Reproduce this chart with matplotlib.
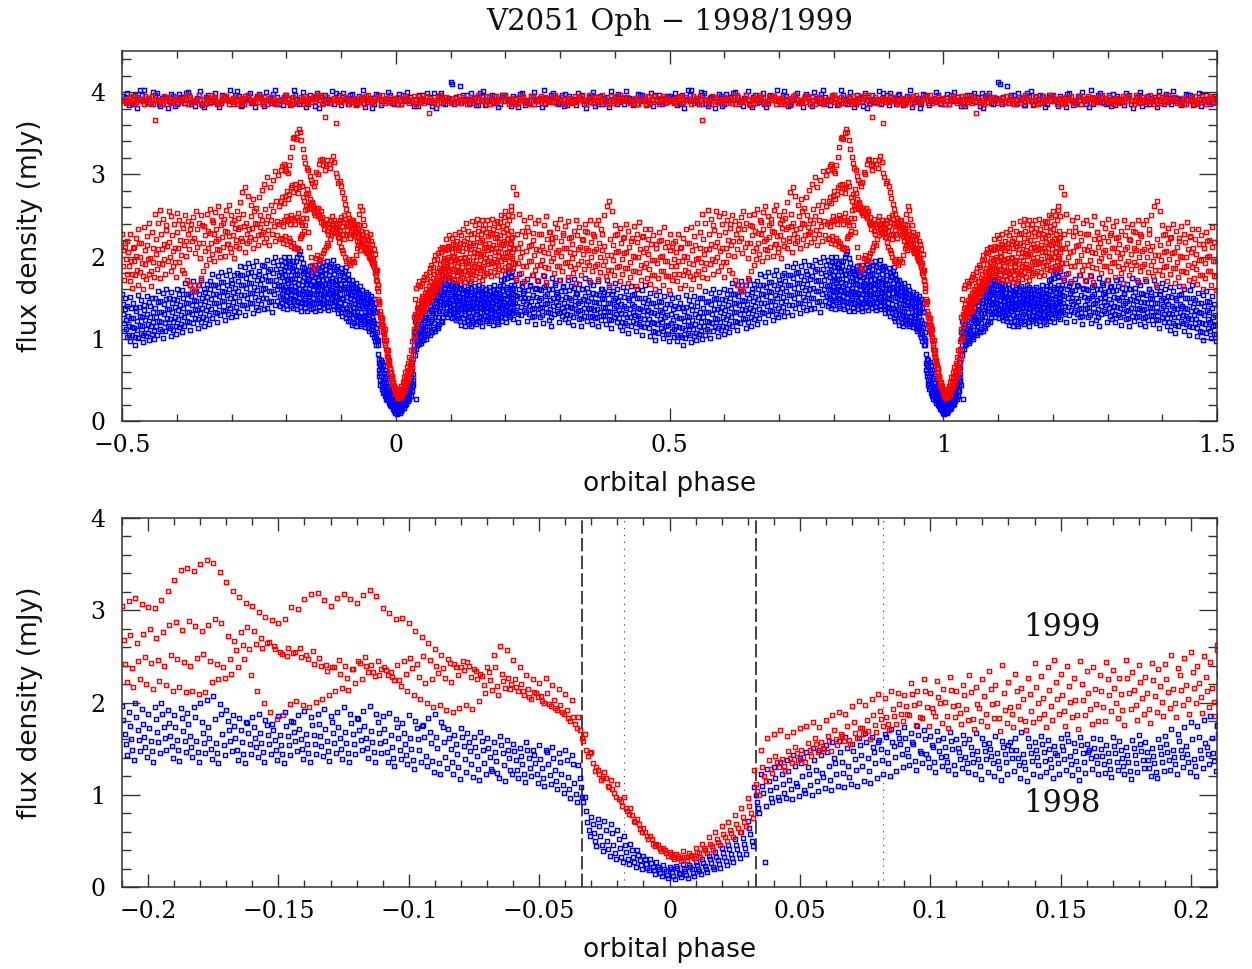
import numpy as np
import matplotlib
matplotlib.use("Agg")
import matplotlib.pyplot as plt
from matplotlib.ticker import MultipleLocator, FuncFormatter

# ---------------------------------------------------------------------------
# Data: flux density (mJy) of V2051 Oph.
# Each year is a set of cycles ("tracks").  Every track has an eclipse
# segment (phase -0.21 .. 0.2125, step 0.0025) and an outer segment
# (phase 0.21 .. 0.785 == -0.215, step 0.005).  Comparison band sampled
# every 0.01 in phase from -0.5.
# ---------------------------------------------------------------------------
ECL_START, ECL_STEP = -0.21, 0.0025
OUT_START, OUT_STEP = 0.21, 0.005
BAND_START, BAND_STEP = -0.5, 0.01

# ----------------------------- 1999 (red) ----------------------------------
r99_1_ecl = [
    3.05, 3.10, 3.13, 3.07, 3.04, 3.02, 3.11, 3.21, 3.33, 3.44,
    3.46, 3.43, 3.50, 3.55, 3.51, 3.42, 3.31, 3.21, 3.14, 3.08,
    3.05, 2.98, 2.93, 2.89, 2.86, 2.91, 3.03, 3.01, 3.12, 3.18,
    3.19, 3.11, 3.05, 3.13, 3.18, 3.12, 3.08, 3.17, 3.22, 3.15,
    3.02, 2.97, 2.90, 2.92, 2.86, 2.78, 2.71, 2.64, 2.58, 2.52,
    2.47, 2.42, 2.38, 2.44, 2.36, 2.31, 2.39, 2.52, 2.61, 2.57,
    2.46, 2.38, 2.30, 2.25, 2.21, 2.27, 2.19, 2.15, 2.09, 2.03,
    1.84, 1.66, 1.46, 1.27, 1.25, 1.16, 1.12, 0.98, 0.86, 0.74,
    0.64, 0.55, 0.47, 0.42, 0.38, 0.36, 0.39, 0.37, 0.42, 0.47,
    0.54, 0.60, 0.66, 0.71, 0.78, 0.86, 0.97, 1.27, 1.48, 1.62,
    1.66, 1.70, 1.64, 1.68, 1.72, 1.75, 1.79, 1.73, 1.81, 1.86,
    1.90, 1.87, 1.96, 2.02, 1.97, 2.04, 2.09, 2.05, 2.12, 2.10,
    2.08, 2.21, 2.13, 2.26, 2.10, 2.23, 2.15, 2.28, 2.12, 2.19,
    2.30, 2.17, 2.26, 2.34, 2.19, 2.41, 2.22, 2.31, 2.16, 2.27,
    2.43, 2.29, 2.38, 2.46, 2.31, 2.40, 2.27, 2.45, 2.34, 2.39,
    2.30, 2.44, 2.35, 2.27, 2.46, 2.33, 2.41, 2.28, 2.43, 2.36,
    2.42, 2.51, 2.37, 2.48, 2.55, 2.40, 2.50, 2.44, 2.57, 2.49,
]
r99_2_ecl = [
    2.68, 2.73, 2.65, 2.74, 2.80, 2.70, 2.76, 2.84, 2.87, 2.79,
    2.88, 2.83, 2.77, 2.84, 2.91, 2.86, 2.72, 2.67, 2.76, 2.82,
    2.77, 2.70, 2.64, 2.61, 2.55, 2.50, 2.54, 2.59, 2.52, 2.56,
    2.48, 2.41, 2.38, 2.46, 2.40, 2.36, 2.45, 2.49, 2.41, 2.45,
    2.38, 2.33, 2.41, 2.45, 2.48, 2.42, 2.50, 2.46, 2.40, 2.37,
    2.43, 2.38, 2.45, 2.40, 2.34, 2.29, 2.33, 2.38, 2.31, 2.27,
    2.26, 2.20, 2.15, 2.11, 2.07, 2.10, 2.03, 1.97, 1.92, 1.84,
    1.70, 1.48, 1.34, 1.22, 1.18, 1.06, 0.95, 0.86, 0.78, 0.68,
    0.60, 0.52, 0.46, 0.40, 0.36, 0.34, 0.33, 0.35, 0.38, 0.42,
    0.47, 0.52, 0.57, 0.62, 0.68, 0.76, 0.88, 1.12, 1.30, 1.38,
    1.42, 1.39, 1.47, 1.52, 1.49, 1.56, 1.61, 1.57, 1.64, 1.70,
    1.66, 1.74, 1.79, 1.72, 1.81, 1.86, 1.91, 1.84, 1.93, 1.98,
    1.96, 2.09, 1.99, 2.12, 1.94, 2.06, 2.01, 2.14, 1.97, 2.08,
    2.11, 1.98, 2.07, 2.15, 2.00, 2.10, 1.95, 2.13, 2.04, 2.09,
    2.17, 2.05, 2.14, 2.22, 2.08, 2.18, 2.03, 2.20, 2.10, 2.15,
    2.12, 2.25, 2.16, 2.09, 2.27, 2.14, 2.22, 2.10, 2.24, 2.18,
    2.26, 2.15, 2.30, 2.19, 2.33, 2.21, 2.28, 2.16, 2.31, 2.24,
]
r99_3_ecl = [
    2.42, 2.37, 2.45, 2.49, 2.43, 2.46, 2.40, 2.51, 2.47, 2.44,
    2.40, 2.48, 2.53, 2.45, 2.42, 2.38, 2.47, 2.57, 2.62, 2.58,
    2.63, 2.59, 2.66, 2.58, 2.53, 2.59, 2.55, 2.49, 2.47, 2.42,
    2.40, 2.34, 2.38, 2.31, 2.27, 2.36, 2.43, 2.40, 2.33, 2.30,
    2.35, 2.28, 2.24, 2.31, 2.37, 2.28, 2.21, 2.26, 2.32, 2.27,
    2.22, 2.30, 2.35, 2.28, 2.25, 2.19, 2.24, 2.18, 2.23, 2.15,
    2.17, 2.12, 2.06, 2.10, 2.02, 1.98, 1.94, 1.90, 1.83, 1.77,
    1.62, 1.42, 1.26, 1.16, 1.10, 1.02, 0.93, 0.82, 0.72, 0.63,
    0.55, 0.47, 0.41, 0.37, 0.33, 0.31, 0.32, 0.34, 0.37, 0.40,
    0.44, 0.49, 0.54, 0.58, 0.64, 0.70, 0.80, 1.04, 1.20, 1.28,
    1.36, 1.31, 1.40, 1.45, 1.41, 1.48, 1.55, 1.51, 1.58, 1.60,
    1.64, 1.59, 1.67, 1.72, 1.69, 1.76, 1.82, 1.77, 1.85, 1.88,
    1.88, 1.97, 1.84, 1.95, 1.90, 1.99, 1.85, 1.96, 1.89, 1.93,
    1.82, 1.94, 1.87, 1.98, 1.83, 1.92, 1.88, 1.96, 1.80, 1.91,
    1.99, 1.88, 1.96, 2.04, 1.91, 2.01, 1.86, 2.03, 1.93, 1.98,
    1.95, 2.08, 1.99, 1.92, 2.10, 1.97, 2.05, 1.93, 2.07, 2.01,
    2.11, 2.00, 2.14, 2.04, 2.16, 2.06, 2.12, 2.01, 2.15, 2.09,
]
r99_4_ecl = [
    2.22, 2.17, 2.25, 2.20, 2.15, 2.23, 2.19, 2.13, 2.17, 2.11,
    2.12, 2.09, 2.11, 2.22, 2.25, 2.27, 2.31, 2.38, 2.47, 2.30,
    2.12, 1.99, 1.90, 1.82, 1.86, 1.98, 2.02, 1.97, 1.95, 2.01,
    2.04, 2.08, 2.12, 2.16, 2.14, 2.21, 2.26, 2.33, 2.29, 2.36,
    2.30, 2.24, 2.18, 2.12, 2.08, 2.04, 1.99, 1.95, 1.97, 1.92,
    1.90, 1.94, 1.97, 1.93, 2.02, 2.10, 2.14, 2.08, 2.16, 2.20,
    2.12, 2.08, 2.04, 2.06, 1.99, 1.96, 1.92, 1.87, 1.80, 1.72,
    1.58, 1.45, 1.30, 1.18, 1.08, 0.98, 0.88, 0.79, 0.70, 0.60,
    0.52, 0.44, 0.39, 0.34, 0.30, 0.28, 0.29, 0.31, 0.33, 0.37,
    0.40, 0.45, 0.50, 0.54, 0.60, 0.66, 0.75, 1.00, 1.15, 1.24,
    1.30, 1.26, 1.34, 1.38, 1.35, 1.42, 1.46, 1.50, 1.47, 1.54,
    1.58, 1.55, 1.62, 1.66, 1.60, 1.68, 1.74, 1.70, 1.77, 1.80,
    1.86, 1.76, 1.83, 1.74, 1.85, 1.78, 1.72, 1.84, 1.77, 1.81,
    1.71, 1.80, 1.74, 1.83, 1.69, 1.78, 1.73, 1.82, 1.70, 1.79,
    1.83, 1.73, 1.81, 1.87, 1.75, 1.84, 1.71, 1.86, 1.77, 1.80,
    1.80, 1.91, 1.83, 1.76, 1.93, 1.81, 1.88, 1.78, 1.90, 1.85,
    1.94, 1.84, 1.97, 1.87, 2.00, 1.89, 1.95, 1.85, 1.98, 1.92,
]
r99_1_out = [
    2.62, 2.84, 2.76, 2.52, 2.31, 2.45, 2.36, 2.48, 2.29, 2.41,
    2.44, 2.27, 2.38, 2.49, 2.30, 2.22, 2.41, 2.35, 2.46, 2.26,
    2.37, 2.43, 2.24, 2.31, 2.45, 2.36, 2.21, 2.40, 2.30, 2.44,
    2.28, 2.39, 2.45, 2.33, 2.50, 2.61, 2.68, 2.56, 2.38, 2.27,
    2.35, 2.22, 2.40, 2.31, 2.19, 2.37, 2.28, 2.42, 2.24, 2.33,
    2.21, 2.34, 2.26, 2.15, 2.30, 2.20, 2.36, 2.18, 2.27, 2.12,
    2.19, 2.28, 2.11, 2.23, 2.33, 2.17, 2.36, 2.25, 2.41, 2.30,
    2.52, 2.41, 2.57, 2.46, 2.38, 2.55, 2.49, 2.40, 2.53, 2.44,
    2.39, 2.51, 2.43, 2.34, 2.48, 2.56, 2.41, 2.50, 2.37, 2.52,
    2.58, 2.45, 2.54, 2.62, 2.49, 2.41, 2.57, 2.63, 2.50, 2.44,
    2.55, 2.66, 2.78, 2.85, 2.74, 2.63, 2.70, 2.59, 2.72, 2.81,
    2.88, 2.97, 2.84, 2.93, 3.04, 2.99,
]
r99_2_out = [
    2.22, 2.11, 2.28, 2.17, 2.06, 2.25, 2.31, 2.14, 2.20, 2.09,
    2.27, 2.13, 2.05, 2.21, 2.30, 2.16, 2.24, 2.08, 2.19, 2.29,
    2.10, 2.23, 2.15, 2.04, 2.26, 2.12, 2.20, 2.31, 2.08, 2.18,
    2.25, 2.09, 2.17, 2.28, 2.13, 2.02, 2.21, 2.14, 2.26, 2.07,
    2.16, 2.24, 2.05, 2.12, 2.22, 2.00, 2.18, 2.09, 2.25, 2.11,
    2.03, 2.15, 1.96, 2.10, 2.19, 2.01, 2.12, 1.94, 2.08, 2.16,
    2.06, 1.95, 2.12, 2.01, 2.17, 1.92, 2.08, 2.14, 1.98, 2.10,
    2.21, 2.09, 2.27, 2.15, 2.32, 2.18, 2.26, 2.11, 2.30, 2.20,
    2.35, 2.19, 2.28, 2.40, 2.23, 2.33, 2.17, 2.38, 2.26, 2.31,
    2.29, 2.42, 2.33, 2.21, 2.38, 2.46, 2.30, 2.25, 2.41, 2.35,
    2.47, 2.36, 2.52, 2.41, 2.33, 2.49, 2.56, 2.40, 2.50, 2.44,
    2.58, 2.49, 2.63, 2.55, 2.68, 2.61,
]
r99_3_out = [
    2.05, 1.92, 2.10, 1.99, 1.88, 2.07, 2.13, 1.95, 2.02, 1.90,
    2.08, 1.96, 1.87, 2.04, 2.12, 1.98, 2.06, 1.89, 2.01, 2.10,
    1.93, 2.06, 1.98, 1.86, 2.09, 1.95, 2.03, 2.11, 1.90, 2.00,
    2.07, 1.91, 1.99, 2.08, 1.94, 1.84, 2.02, 1.96, 2.05, 1.88,
    1.97, 2.04, 1.86, 1.93, 2.01, 1.82, 1.99, 1.90, 2.05, 1.92,
    1.85, 1.96, 1.78, 1.92, 2.00, 1.83, 1.94, 1.76, 1.89, 1.97,
    1.88, 1.79, 1.95, 1.84, 1.99, 1.76, 1.91, 1.97, 1.82, 1.93,
    2.03, 1.92, 2.09, 1.97, 2.13, 2.00, 2.07, 1.93, 2.11, 2.02,
    2.14, 2.01, 2.09, 2.19, 2.04, 2.12, 1.98, 2.17, 2.07, 2.11,
    2.16, 2.27, 2.19, 2.08, 2.24, 2.31, 2.15, 2.11, 2.26, 2.20,
    2.33, 2.22, 2.37, 2.27, 2.19, 2.35, 2.41, 2.26, 2.36, 2.30,
    2.41, 2.32, 2.45, 2.37, 2.43, 2.39,
]
r99_4_out = [
    1.86, 1.74, 1.92, 1.80, 1.70, 1.89, 1.95, 1.77, 1.84, 1.72,
    1.90, 1.78, 1.69, 1.86, 1.94, 1.80, 1.88, 1.71, 1.83, 1.92,
    1.75, 1.88, 1.80, 1.68, 1.91, 1.77, 1.85, 1.93, 1.72, 1.82,
    1.89, 1.73, 1.81, 1.90, 1.76, 1.66, 1.84, 1.78, 1.87, 1.70,
    1.79, 1.86, 1.68, 1.75, 1.83, 1.64, 1.81, 1.72, 1.87, 1.74,
    1.67, 1.78, 1.61, 1.74, 1.82, 1.65, 1.76, 1.59, 1.71, 1.79,
    1.70, 1.62, 1.77, 1.66, 1.81, 1.60, 1.73, 1.79, 1.64, 1.75,
    1.85, 1.74, 1.91, 1.79, 1.95, 1.82, 1.89, 1.75, 1.93, 1.84,
    1.80, 1.71, 1.66, 1.61, 1.58, 1.65, 1.74, 1.82, 1.90, 1.97,
    2.03, 1.94, 2.09, 1.99, 2.12, 2.01, 2.15, 2.06, 1.98, 2.13,
    2.10, 2.19, 2.05, 2.16, 2.24, 2.11, 2.21, 2.14, 2.27, 2.18,
    2.23, 2.14, 2.28, 2.19, 2.26, 2.21,
]

# ----------------------------- 1998 (blue) ---------------------------------
b98_1_ecl = [
    1.96, 1.90, 1.99, 1.93, 1.87, 1.95, 2.00, 1.92, 1.86, 1.94,
    1.89, 1.95, 1.99, 2.03, 2.07, 1.98, 1.92, 1.86, 1.83, 1.79,
    1.84, 1.88, 1.81, 1.77, 1.85, 1.90, 1.80, 1.86, 1.91, 1.84,
    1.87, 1.93, 1.85, 1.90, 1.95, 1.88, 1.83, 1.91, 1.96, 1.87,
    1.85, 1.89, 1.82, 1.78, 1.86, 1.80, 1.75, 1.83, 1.87, 1.79,
    1.71, 1.65, 1.72, 1.67, 1.63, 1.68, 1.61, 1.57, 1.64, 1.59,
    1.55, 1.51, 1.57, 1.49, 1.54, 1.48, 1.52, 1.45, 1.48, 1.43,
    1.32, 0.98, 0.76, 0.74, 0.72, 0.68, 0.62, 0.55, 0.47, 0.40,
    0.34, 0.30, 0.27, 0.24, 0.22, 0.23, 0.25, 0.24, 0.27, 0.30,
    0.34, 0.38, 0.42, 0.46, 0.52, 0.60, 0.72, 1.08, 1.22, 1.28,
    1.30, 1.35, 1.38, 1.43, 1.40, 1.46, 1.51, 1.48, 1.54, 1.57,
    1.58, 1.63, 1.55, 1.61, 1.67, 1.63, 1.57, 1.66, 1.71, 1.68,
    1.73, 1.67, 1.75, 1.70, 1.64, 1.69, 1.62, 1.68, 1.60, 1.65,
    1.60, 1.67, 1.62, 1.56, 1.64, 1.58, 1.54, 1.61, 1.68, 1.62,
    1.57, 1.64, 1.59, 1.53, 1.61, 1.66, 1.56, 1.63, 1.55, 1.61,
    1.60, 1.54, 1.63, 1.58, 1.52, 1.59, 1.65, 1.57, 1.51, 1.60,
    1.64, 1.71, 1.66, 1.73, 1.79, 1.74, 1.81, 1.85, 1.76, 1.83,
]
b98_2_ecl = [
    1.81, 1.75, 1.84, 1.77, 1.72, 1.82, 1.87, 1.78, 1.73, 1.83,
    1.77, 1.84, 1.79, 1.73, 1.82, 1.87, 1.80, 1.75, 1.70, 1.78,
    1.73, 1.67, 1.76, 1.70, 1.65, 1.75, 1.79, 1.71, 1.66, 1.76,
    1.77, 1.71, 1.79, 1.73, 1.68, 1.78, 1.82, 1.74, 1.69, 1.79,
    1.71, 1.65, 1.73, 1.67, 1.62, 1.72, 1.76, 1.68, 1.63, 1.73,
    1.61, 1.55, 1.63, 1.57, 1.52, 1.58, 1.51, 1.46, 1.54, 1.49,
    1.47, 1.42, 1.49, 1.43, 1.39, 1.46, 1.40, 1.35, 1.38, 1.33,
    1.18, 0.82, 0.68, 0.66, 0.62, 0.58, 0.52, 0.46, 0.40, 0.35,
    0.30, 0.26, 0.22, 0.20, 0.19, 0.21, 0.20, 0.22, 0.24, 0.26,
    0.30, 0.33, 0.37, 0.41, 0.46, 0.53, 0.64, 1.00, 1.10, 1.15,
    1.18, 1.23, 1.26, 1.31, 1.34, 1.30, 1.38, 1.43, 1.46, 1.40,
    1.46, 1.51, 1.47, 1.54, 1.57, 1.52, 1.59, 1.63, 1.57, 1.61,
    1.62, 1.57, 1.65, 1.60, 1.54, 1.59, 1.52, 1.58, 1.51, 1.56,
    1.52, 1.47, 1.55, 1.50, 1.45, 1.52, 1.57, 1.48, 1.44, 1.53,
    1.49, 1.55, 1.50, 1.45, 1.53, 1.58, 1.47, 1.54, 1.46, 1.51,
    1.50, 1.45, 1.53, 1.48, 1.43, 1.51, 1.55, 1.46, 1.42, 1.52,
    1.55, 1.49, 1.58, 1.53, 1.60, 1.63, 1.56, 1.62, 1.66, 1.60,
]
b98_3_ecl = [
    1.66, 1.60, 1.70, 1.63, 1.58, 1.68, 1.73, 1.64, 1.59, 1.69,
    1.64, 1.58, 1.67, 1.61, 1.56, 1.66, 1.70, 1.62, 1.57, 1.67,
    1.62, 1.56, 1.65, 1.59, 1.54, 1.64, 1.68, 1.60, 1.55, 1.65,
    1.64, 1.58, 1.67, 1.61, 1.56, 1.66, 1.70, 1.62, 1.57, 1.67,
    1.58, 1.52, 1.61, 1.55, 1.50, 1.60, 1.63, 1.56, 1.51, 1.57,
    1.50, 1.44, 1.53, 1.47, 1.42, 1.48, 1.41, 1.37, 1.45, 1.40,
    1.38, 1.33, 1.40, 1.34, 1.29, 1.33, 1.27, 1.23, 1.19, 1.13,
    1.08, 0.70, 0.58, 0.55, 0.50, 0.46, 0.42, 0.38, 0.33, 0.29,
    0.25, 0.22, 0.19, 0.17, 0.16, 0.15, 0.17, 0.19, 0.20, 0.23,
    0.26, 0.29, 0.32, 0.36, 0.41, 0.47, 0.57, 0.92, 1.02, 1.05,
    1.08, 1.12, 1.16, 1.13, 1.20, 1.23, 1.27, 1.24, 1.31, 1.34,
    1.36, 1.31, 1.39, 1.43, 1.40, 1.46, 1.50, 1.46, 1.53, 1.55,
    1.50, 1.55, 1.47, 1.44, 1.52, 1.47, 1.42, 1.50, 1.46, 1.41,
    1.44, 1.39, 1.47, 1.42, 1.37, 1.44, 1.48, 1.40, 1.36, 1.45,
    1.41, 1.46, 1.39, 1.43, 1.48, 1.42, 1.37, 1.45, 1.49, 1.42,
    1.42, 1.37, 1.45, 1.40, 1.35, 1.43, 1.47, 1.38, 1.34, 1.44,
    1.46, 1.41, 1.49, 1.44, 1.39, 1.48, 1.52, 1.45, 1.50, 1.54,
]
b98_4_ecl = [
    1.55, 1.49, 1.59, 1.52, 1.47, 1.57, 1.61, 1.53, 1.48, 1.58,
    1.52, 1.46, 1.56, 1.50, 1.45, 1.54, 1.58, 1.49, 1.44, 1.55,
    1.52, 1.46, 1.55, 1.49, 1.44, 1.54, 1.58, 1.50, 1.45, 1.55,
    1.53, 1.47, 1.56, 1.50, 1.45, 1.55, 1.59, 1.51, 1.46, 1.56,
    1.46, 1.40, 1.49, 1.43, 1.38, 1.48, 1.42, 1.37, 1.34, 1.41,
    1.36, 1.30, 1.39, 1.33, 1.28, 1.34, 1.28, 1.24, 1.32, 1.27,
    1.27, 1.22, 1.29, 1.22, 1.18, 1.21, 1.15, 1.11, 1.06, 1.01,
    0.98, 0.62, 0.50, 0.46, 0.41, 0.37, 0.33, 0.30, 0.27, 0.24,
    0.21, 0.18, 0.15, 0.13, 0.12, 0.14, 0.13, 0.15, 0.17, 0.19,
    0.22, 0.25, 0.28, 0.31, 0.36, 0.42, 0.50, 0.86, 0.27, 0.96,
    0.98, 1.02, 1.06, 1.09, 1.05, 1.11, 1.15, 1.19, 1.16, 1.22,
    1.24, 1.19, 1.27, 1.31, 1.26, 1.34, 1.38, 1.34, 1.41, 1.44,
    1.42, 1.37, 1.45, 1.40, 1.35, 1.41, 1.36, 1.32, 1.39, 1.34,
    1.36, 1.31, 1.39, 1.34, 1.29, 1.36, 1.40, 1.32, 1.28, 1.37,
    1.32, 1.37, 1.30, 1.34, 1.39, 1.33, 1.28, 1.36, 1.40, 1.34,
    1.33, 1.28, 1.36, 1.31, 1.26, 1.34, 1.38, 1.29, 1.25, 1.35,
    1.38, 1.33, 1.41, 1.36, 1.31, 1.40, 1.44, 1.37, 1.42, 1.46,
]
b98_5_ecl = [
    1.43, 1.38, 1.47, 1.41, 1.36, 1.45, 1.49, 1.40, 1.37, 1.46,
    1.41, 1.36, 1.45, 1.39, 1.34, 1.43, 1.47, 1.38, 1.34, 1.44,
    1.41, 1.36, 1.44, 1.38, 1.34, 1.43, 1.47, 1.39, 1.35, 1.44,
    1.42, 1.37, 1.45, 1.39, 1.35, 1.44, 1.48, 1.40, 1.36, 1.45,
    1.36, 1.31, 1.39, 1.33, 1.28, 1.36, 1.31, 1.25, 1.22, 1.29,
    1.22, 1.17, 1.25, 1.19, 1.16, 1.22, 1.26, 1.18, 1.15, 1.23,
    1.18, 1.14, 1.20, 1.13, 1.09, 1.12, 1.06, 1.02, 0.97, 0.92,
    0.92, 0.55, 0.44, 0.39, 0.34, 0.30, 0.27, 0.25, 0.22, 0.20,
    0.18, 0.14, 0.12, 0.10, 0.09, 0.11, 0.10, 0.12, 0.14, 0.16,
    0.19, 0.21, 0.24, 0.27, 0.31, 0.36, 0.44, 0.80, 0.88, 0.92,
    0.94, 0.97, 0.95, 0.99, 1.02, 1.00, 1.04, 1.07, 1.05, 1.09,
    1.08, 1.12, 1.10, 1.15, 1.13, 1.18, 1.22, 1.20, 1.26, 1.30,
    1.32, 1.27, 1.34, 1.30, 1.25, 1.31, 1.27, 1.23, 1.29, 1.25,
    1.22, 1.17, 1.25, 1.20, 1.16, 1.22, 1.26, 1.18, 1.15, 1.23,
    1.20, 1.25, 1.18, 1.22, 1.27, 1.21, 1.16, 1.24, 1.28, 1.22,
    1.24, 1.19, 1.27, 1.22, 1.17, 1.25, 1.29, 1.20, 1.18, 1.26,
    1.27, 1.22, 1.30, 1.25, 1.20, 1.29, 1.33, 1.26, 1.31, 1.35,
]
b98_1_out = [
    1.75, 1.62, 1.71, 1.79, 1.64, 1.58, 1.73, 1.66, 1.77, 1.60,
    1.70, 1.59, 1.76, 1.65, 1.61, 1.74, 1.68, 1.57, 1.72, 1.63,
    1.58, 1.71, 1.64, 1.73, 1.56, 1.67, 1.60, 1.74, 1.62, 1.69,
    1.66, 1.55, 1.70, 1.61, 1.57, 1.71, 1.63, 1.54, 1.68, 1.60,
    1.52, 1.63, 1.58, 1.49, 1.64, 1.55, 1.61, 1.50, 1.59, 1.65,
    1.47, 1.56, 1.43, 1.53, 1.58, 1.45, 1.52, 1.42, 1.55, 1.49,
    1.40, 1.51, 1.44, 1.38, 1.53, 1.47, 1.41, 1.52, 1.45, 1.50,
    1.49, 1.58, 1.46, 1.56, 1.61, 1.50, 1.57, 1.48, 1.60, 1.54,
    1.59, 1.68, 1.55, 1.66, 1.70, 1.58, 1.65, 1.72, 1.61, 1.67,
    1.70, 1.79, 1.66, 1.76, 1.81, 1.69, 1.77, 1.84, 1.72, 1.78,
    1.80, 1.89, 1.77, 1.87, 1.92, 1.81, 1.88, 1.95, 1.83, 1.90,
    1.88, 1.96, 1.85, 1.93, 1.99, 1.90,
]
b98_2_out = [
    1.55, 1.66, 1.52, 1.61, 1.68, 1.50, 1.59, 1.64, 1.53, 1.62,
    1.60, 1.49, 1.63, 1.55, 1.47, 1.61, 1.66, 1.51, 1.58, 1.64,
    1.51, 1.59, 1.47, 1.62, 1.54, 1.46, 1.60, 1.52, 1.57, 1.49,
    1.56, 1.45, 1.53, 1.60, 1.48, 1.55, 1.44, 1.58, 1.50, 1.46,
    1.42, 1.51, 1.38, 1.47, 1.53, 1.40, 1.49, 1.36, 1.45, 1.50,
    1.35, 1.43, 1.31, 1.40, 1.46, 1.33, 1.38, 1.29, 1.42, 1.36,
    1.28, 1.37, 1.25, 1.34, 1.39, 1.27, 1.35, 1.30, 1.40, 1.32,
    1.38, 1.45, 1.33, 1.42, 1.48, 1.36, 1.44, 1.39, 1.47, 1.41,
    1.49, 1.55, 1.43, 1.52, 1.58, 1.46, 1.54, 1.50, 1.57, 1.51,
    1.60, 1.66, 1.54, 1.63, 1.69, 1.57, 1.65, 1.61, 1.68, 1.62,
    1.70, 1.77, 1.65, 1.74, 1.80, 1.68, 1.76, 1.72, 1.79, 1.73,
    1.76, 1.83, 1.72, 1.80, 1.85, 1.78,
]
b98_3_out = [
    1.44, 1.53, 1.40, 1.49, 1.56, 1.42, 1.50, 1.46, 1.38, 1.51,
    1.47, 1.39, 1.52, 1.43, 1.36, 1.50, 1.55, 1.41, 1.48, 1.44,
    1.40, 1.49, 1.37, 1.51, 1.44, 1.35, 1.48, 1.42, 1.46, 1.38,
    1.45, 1.36, 1.43, 1.49, 1.38, 1.44, 1.33, 1.47, 1.40, 1.35,
    1.31, 1.40, 1.27, 1.36, 1.42, 1.29, 1.38, 1.25, 1.34, 1.39,
    1.24, 1.32, 1.19, 1.29, 1.35, 1.21, 1.27, 1.17, 1.30, 1.23,
    1.16, 1.25, 1.13, 1.22, 1.28, 1.15, 1.23, 1.18, 1.27, 1.20,
    1.26, 1.33, 1.21, 1.30, 1.36, 1.24, 1.32, 1.27, 1.35, 1.29,
    1.37, 1.44, 1.32, 1.41, 1.47, 1.35, 1.42, 1.38, 1.46, 1.40,
    1.48, 1.55, 1.43, 1.52, 1.58, 1.46, 1.53, 1.49, 1.57, 1.51,
    1.58, 1.65, 1.53, 1.62, 1.68, 1.56, 1.63, 1.59, 1.67, 1.61,
    1.62, 1.70, 1.58, 1.66, 1.72, 1.64,
]
b98_4_out = [
    1.34, 1.43, 1.30, 1.39, 1.46, 1.32, 1.40, 1.36, 1.28, 1.41,
    1.37, 1.29, 1.42, 1.33, 1.26, 1.40, 1.45, 1.31, 1.38, 1.34,
    1.30, 1.39, 1.27, 1.41, 1.34, 1.25, 1.38, 1.32, 1.36, 1.28,
    1.35, 1.26, 1.33, 1.39, 1.28, 1.34, 1.23, 1.37, 1.30, 1.25,
    1.21, 1.30, 1.17, 1.26, 1.32, 1.19, 1.28, 1.15, 1.24, 1.29,
    1.13, 1.21, 1.08, 1.18, 1.24, 1.10, 1.16, 1.06, 1.19, 1.12,
    1.05, 1.14, 1.02, 1.11, 1.17, 1.04, 1.12, 1.07, 1.16, 1.09,
    1.15, 1.22, 1.10, 1.19, 1.25, 1.13, 1.21, 1.16, 1.24, 1.18,
    1.26, 1.33, 1.21, 1.30, 1.36, 1.24, 1.31, 1.27, 1.35, 1.29,
    1.36, 1.43, 1.31, 1.40, 1.46, 1.34, 1.41, 1.37, 1.45, 1.39,
    1.46, 1.53, 1.41, 1.50, 1.56, 1.44, 1.51, 1.47, 1.55, 1.49,
    1.50, 1.58, 1.46, 1.54, 1.60, 1.52,
]
b98_5_out = [
    1.24, 1.32, 1.20, 1.29, 1.35, 1.22, 1.30, 1.26, 1.18, 1.31,
    1.27, 1.19, 1.32, 1.23, 1.16, 1.30, 1.34, 1.21, 1.28, 1.24,
    1.20, 1.29, 1.17, 1.31, 1.24, 1.15, 1.28, 1.22, 1.26, 1.18,
    1.25, 1.16, 1.23, 1.29, 1.18, 1.24, 1.13, 1.27, 1.20, 1.15,
    1.11, 1.19, 1.07, 1.16, 1.22, 1.09, 1.18, 1.05, 1.14, 1.19,
    1.03, 1.10, 0.99, 1.07, 1.13, 1.01, 1.06, 0.97, 1.09, 1.02,
    0.97, 1.04, 0.93, 1.01, 1.07, 0.96, 1.03, 0.99, 1.06, 1.00,
    1.05, 1.12, 1.01, 1.09, 1.15, 1.03, 1.11, 1.06, 1.14, 1.08,
    1.15, 1.22, 1.11, 1.19, 1.25, 1.13, 1.21, 1.16, 1.24, 1.18,
    1.25, 1.32, 1.20, 1.29, 1.35, 1.23, 1.30, 1.26, 1.34, 1.28,
    1.33, 1.41, 1.29, 1.37, 1.43, 1.31, 1.39, 1.35, 1.42, 1.36,
    1.37, 1.45, 1.33, 1.41, 1.46, 1.40,
]

# ----------------------- comparison band (top panel) -----------------------
band99_1 = [
    3.92, 3.88, 3.95, 3.90, 3.86, 3.93, 3.66, 3.89, 3.91, 3.87,
    3.94, 3.90, 3.85, 3.88, 3.96, 3.92, 3.87, 3.93, 3.89, 3.95,
    3.90, 3.86, 3.93, 3.97, 3.91, 3.88, 3.94, 3.89, 3.85, 3.92,
    3.96, 3.91, 3.87, 3.93, 3.89, 3.95, 3.90, 3.70, 3.92, 3.63,
    3.88, 3.94, 3.90, 3.86, 3.93, 3.97, 3.89, 3.92, 3.87, 3.94,
    3.91, 3.86, 3.93, 3.89, 3.95, 3.90, 3.74, 3.88, 3.96, 3.92,
    3.87, 3.93, 3.90, 3.85, 3.92, 3.96, 3.89, 3.94, 3.88, 3.91,
    3.95, 3.90, 3.86, 3.93, 3.89, 3.94, 3.91, 3.87, 3.93, 3.97,
    3.90, 3.86, 3.92, 3.88, 3.95, 3.91, 3.87, 3.94, 3.89, 3.85,
    3.92, 3.96, 3.90, 3.87, 3.93, 3.89, 3.95, 3.91, 3.86, 3.93,
]
band99_2 = [
    3.89, 3.93, 3.87, 3.91, 3.95, 3.88, 3.92, 3.86, 3.94, 3.90,
    3.87, 3.93, 3.96, 3.89, 3.91, 3.85, 3.92, 3.88, 3.95, 3.90,
    3.93, 3.89, 3.86, 3.92, 3.88, 3.95, 3.90, 3.94, 3.87, 3.91,
    3.88, 3.94, 3.90, 3.86, 3.93, 3.89, 3.96, 3.91, 3.87, 3.92,
    3.95, 3.89, 3.92, 3.88, 3.86, 3.91, 3.94, 3.87, 3.93, 3.90,
    3.86, 3.92, 3.89, 3.95, 3.90, 3.87, 3.93, 3.91, 3.88, 3.94,
    3.92, 3.88, 3.94, 3.90, 3.87, 3.93, 3.89, 3.86, 3.95, 3.90,
    3.89, 3.93, 3.88, 3.95, 3.91, 3.86, 3.92, 3.94, 3.89, 3.87,
    3.94, 3.90, 3.87, 3.93, 3.89, 3.96, 3.91, 3.88, 3.92, 3.95,
    3.88, 3.91, 3.94, 3.89, 3.86, 3.92, 3.88, 3.95, 3.90, 3.87,
]
band99_3 = [
    3.90, 3.94, 3.88, 3.92, 3.87, 3.95, 3.91, 3.86, 3.93, 3.89,
    3.92, 3.87, 3.94, 3.90, 3.86, 3.93, 3.96, 3.88, 3.91, 3.85,
    3.88, 3.92, 3.95, 3.87, 3.93, 3.90, 3.86, 3.94, 3.91, 3.89,
    3.93, 3.87, 3.91, 3.95, 3.88, 3.92, 3.86, 3.94, 3.90, 3.88,
    3.90, 3.86, 3.93, 3.91, 3.95, 3.88, 3.92, 3.96, 3.89, 3.87,
    3.94, 3.90, 3.87, 3.92, 3.88, 3.95, 3.91, 3.86, 3.93, 3.89,
    3.88, 3.95, 3.91, 3.87, 3.94, 3.90, 3.86, 3.92, 3.89, 3.96,
    3.91, 3.87, 3.94, 3.89, 3.86, 3.92, 3.95, 3.90, 3.88, 3.93,
    3.87, 3.93, 3.89, 3.95, 3.91, 3.88, 3.94, 3.90, 3.86, 3.92,
    3.95, 3.89, 3.92, 3.86, 3.90, 3.94, 3.87, 3.91, 3.93, 3.88,
]
band99_4 = [
    3.87, 3.91, 3.94, 3.89, 3.93, 3.86, 3.90, 3.95, 3.88, 3.92,
    3.90, 3.95, 3.88, 3.92, 3.87, 3.91, 3.94, 3.86, 3.93, 3.89,
    3.94, 3.87, 3.91, 3.89, 3.95, 3.86, 3.92, 3.88, 3.90, 3.96,
    3.86, 3.90, 3.94, 3.88, 3.92, 3.96, 3.89, 3.87, 3.93, 3.91,
    3.92, 3.88, 3.86, 3.94, 3.90, 3.87, 3.95, 3.91, 3.88, 3.93,
    3.89, 3.95, 3.91, 3.86, 3.93, 3.89, 3.87, 3.94, 3.90, 3.92,
    3.93, 3.87, 3.89, 3.94, 3.88, 3.91, 3.95, 3.87, 3.92, 3.89,
    3.86, 3.92, 3.90, 3.87, 3.95, 3.89, 3.93, 3.88, 3.94, 3.91,
    3.92, 3.88, 3.95, 3.90, 3.86, 3.93, 3.89, 3.96, 3.91, 3.87,
    3.89, 3.94, 3.87, 3.93, 3.91, 3.86, 3.92, 3.89, 3.95, 3.90,
]
band98_1 = [
    3.95, 3.99, 3.86, 3.92, 4.02, 3.88, 3.97, 3.83, 3.93, 3.98,
    3.85, 3.94, 4.00, 3.89, 3.96, 3.82, 3.91, 3.99, 3.87, 3.95,
    3.90, 4.01, 3.84, 3.96, 3.88, 3.98, 3.83, 3.93, 4.03, 3.89,
    3.97, 3.85, 3.92, 4.00, 3.86, 3.94, 3.81, 3.96, 3.90, 3.99,
    3.84, 3.93, 3.98, 3.87, 4.02, 3.91, 3.85, 3.95, 3.89, 3.97,
    3.92, 3.86, 4.00, 3.90, 3.83, 3.96, 3.88, 3.99, 3.93, 3.85,
    4.12, 3.94, 3.87, 3.97, 3.91, 3.84, 4.01, 3.89, 3.95, 3.86,
    3.96, 3.83, 3.93, 3.99, 3.88, 3.95, 3.85, 4.02, 3.90, 3.94,
    3.87, 3.98, 3.91, 3.84, 3.96, 3.89, 4.00, 3.86, 3.93, 3.82,
    3.94, 3.88, 4.01, 3.92, 3.85, 3.97, 3.90, 3.83, 3.96, 3.91,
]
band98_2 = [
    3.89, 3.84, 3.97, 4.03, 3.91, 3.86, 3.99, 3.93, 3.81, 3.95,
    3.98, 3.87, 3.92, 3.83, 4.01, 3.94, 3.88, 3.85, 3.97, 3.90,
    3.86, 3.95, 3.91, 3.99, 3.82, 3.93, 4.00, 3.87, 3.94, 3.84,
    3.92, 4.02, 3.85, 3.89, 3.97, 3.83, 3.94, 3.88, 4.01, 3.90,
    3.99, 3.86, 3.91, 3.95, 3.82, 3.93, 3.98, 3.84, 3.92, 3.87,
    3.85, 3.97, 3.90, 3.83, 3.96, 3.89, 3.94, 3.81, 3.99, 3.92,
    4.10, 3.88, 3.96, 3.85, 3.93, 3.99, 3.84, 3.92, 3.87, 3.97,
    3.90, 3.95, 3.82, 3.91, 3.87, 4.00, 3.93, 3.85, 3.96, 3.88,
    3.97, 3.84, 3.92, 3.99, 3.86, 3.94, 3.83, 3.95, 3.89, 4.01,
    3.86, 3.93, 3.89, 3.84, 3.98, 3.91, 3.85, 3.96, 3.88, 3.93,
]
band98_3 = [
    3.93, 3.87, 3.81, 3.96, 3.90, 4.00, 3.85, 3.94, 3.89, 3.83,
    3.91, 3.99, 3.86, 3.93, 3.84, 3.97, 3.90, 3.82, 3.95, 4.02,
    3.97, 3.83, 3.92, 3.87, 3.95, 3.85, 3.91, 3.98, 3.86, 3.94,
    3.84, 3.96, 3.89, 3.82, 3.93, 3.99, 3.87, 3.91, 3.85, 3.97,
    3.91, 3.97, 3.84, 3.93, 3.88, 3.81, 3.96, 3.90, 4.00, 3.86,
    3.98, 3.89, 3.94, 3.86, 3.91, 3.99, 3.83, 3.95, 3.87, 3.93,
    3.86, 4.08, 3.92, 3.99, 3.84, 3.95, 3.90, 3.97, 3.82, 3.94,
    3.92, 3.87, 3.98, 3.84, 3.95, 3.89, 3.82, 3.93, 3.99, 3.86,
    3.83, 3.95, 3.88, 3.93, 3.81, 3.97, 3.90, 3.85, 3.94, 3.89,
    3.98, 3.85, 3.93, 3.90, 3.96, 3.84, 3.99, 3.91, 3.86, 3.95,
]

red_ecl = [r99_1_ecl, r99_2_ecl, r99_3_ecl, r99_4_ecl]
red_out = [r99_1_out, r99_2_out, r99_3_out, r99_4_out]
blue_ecl = [b98_1_ecl, b98_2_ecl, b98_3_ecl, b98_4_ecl, b98_5_ecl]
blue_out = [b98_1_out, b98_2_out, b98_3_out, b98_4_out, b98_5_out]
red_band = [band99_1, band99_2, band99_3, band99_4]
blue_band = [band98_1, band98_2, band98_3]

# Eclipse contact phases (white dwarf: dashed, bright spot: dotted)
wd_contacts = [-0.0335, 0.033]
bs_contacts = [-0.0175, 0.082]

# ---------------------------------------------------------------------------
def wrap(p):
    return (p + 0.5) % 1.0 - 0.5


def seg_phases(n, start, step, k, ntr):
    return wrap(start + step * (np.arange(n) + k / ntr))


def gather(ecl_tracks, out_tracks):
    ps, fs = [], []
    n = len(ecl_tracks)
    for k, (e, o) in enumerate(zip(ecl_tracks, out_tracks)):
        ps.append(seg_phases(len(e), ECL_START, ECL_STEP, k, n))
        fs.append(np.asarray(e, float))
        ps.append(seg_phases(len(o), OUT_START, OUT_STEP, k, n))
        fs.append(np.asarray(o, float))
    return np.concatenate(ps), np.concatenate(fs)


def gather_band(tracks):
    ps, fs = [], []
    n = len(tracks)
    for k, t in enumerate(tracks):
        ps.append(seg_phases(len(t), BAND_START, BAND_STEP, k, n))
        fs.append(np.asarray(t, float))
    return np.concatenate(ps), np.concatenate(fs)


p99, f99 = gather(red_ecl, red_out)
p98, f98 = gather(blue_ecl, blue_out)
pb99, fb99 = gather_band(red_band)
pb98, fb98 = gather_band(blue_band)

RED = "#ff0000"
BLUE = "#0000ff"
FRAME = "#333333"
SERIF = ["DejaVu Serif"]
SANS = ["DejaVu Sans"]

mk = dict(ls="none", marker="s", ms=2.4, mfc="none", mew=1.05)


def fmt(v, pos):
    if abs(v) < 1e-9:
        return "0"
    return ("%g" % round(v, 6)).replace("-", "\u2212")


def style(ax, xmaj, xmin):
    ax.xaxis.set_major_locator(MultipleLocator(xmaj))
    ax.xaxis.set_minor_locator(MultipleLocator(xmin))
    ax.yaxis.set_major_locator(MultipleLocator(1))
    ax.yaxis.set_minor_locator(MultipleLocator(0.2))
    ax.xaxis.set_major_formatter(FuncFormatter(fmt))
    ax.yaxis.set_major_formatter(FuncFormatter(fmt))
    ax.tick_params(which="both", direction="in", top=True, right=True,
                   color=FRAME, width=1.0)
    ax.tick_params(axis="x", which="major", length=9.5, pad=9)
    ax.tick_params(axis="x", which="minor", length=5)
    ax.tick_params(axis="y", which="major", length=13, pad=12)
    ax.tick_params(axis="y", which="minor", length=6.5)
    for lab in ax.get_xticklabels() + ax.get_yticklabels():
        lab.set_family(SERIF)
        lab.set_fontsize(17)
    for s in ax.spines.values():
        s.set_color(FRAME)
        s.set_linewidth(1.1)


fig = plt.figure(figsize=(12.52, 9.69), dpi=100)
fig.patch.set_facecolor("white")

ax1 = fig.add_axes([122 / 1252, 1 - 421 / 969, 1095 / 1252, 370 / 969])
ax2 = fig.add_axes([122 / 1252, 1 - 887 / 969, 1095 / 1252, 369 / 969])

# ---- top panel: two cycles ----
ax1.plot(np.r_[p98, p98 + 1], np.r_[f98, f98], mec=BLUE, **mk)
ax1.plot(np.r_[pb98, pb98 + 1], np.r_[fb98, fb98], mec=BLUE, **mk)
ax1.plot(np.r_[p99, p99 + 1], np.r_[f99, f99], mec=RED, **mk)
ax1.plot(np.r_[pb99, pb99 + 1], np.r_[fb99, fb99], mec=RED, **mk)
ax1.set_xlim(-0.5, 1.5)
ax1.set_ylim(0, 4.5)
style(ax1, 0.5, 0.1)

# ---- bottom panel: eclipse zoom ----
ax2.plot(p98, f98, mec=BLUE, **mk)
ax2.plot(p99, f99, mec=RED, **mk)
for x in wd_contacts:
    ax2.axvline(x, color="#222222", lw=1.2, ls=(0, (8, 2.6)), zorder=0.5)
for x in bs_contacts:
    ax2.axvline(x, color="#555555", lw=0.8, ls=(0, (1.2, 5)), zorder=0.5)
ax2.set_xlim(-0.21, 0.21)
ax2.set_ylim(0, 4)
style(ax2, 0.05, 0.01)

ax2.text(0.1506, 2.81, "1999", family=SERIF, fontsize=22, ha="center",
         va="center", color="#111111")
ax2.text(0.1506, 0.91, "1998", family=SERIF, fontsize=22, ha="center",
         va="center", color="#111111")

# ---- texts ----
fig.text(669.5 / 1252, 1 - 22 / 969, "V2051 Oph \u2212 1998/1999",
         family=SERIF, fontsize=21, ha="center", va="center", color="#111111")
for yc in (484, 950):
    fig.text(669.5 / 1252, 1 - yc / 969, "orbital phase", family=SANS,
             fontsize=19, ha="center", va="center", color="#111111")
for yc in (236, 702.5):
    fig.text(30 / 1252, 1 - yc / 969, "flux density (mJy)", family=SANS,
             fontsize=19, ha="center", va="center", rotation=90,
             color="#111111")

fig.savefig("out.png", dpi=100, facecolor="white")
